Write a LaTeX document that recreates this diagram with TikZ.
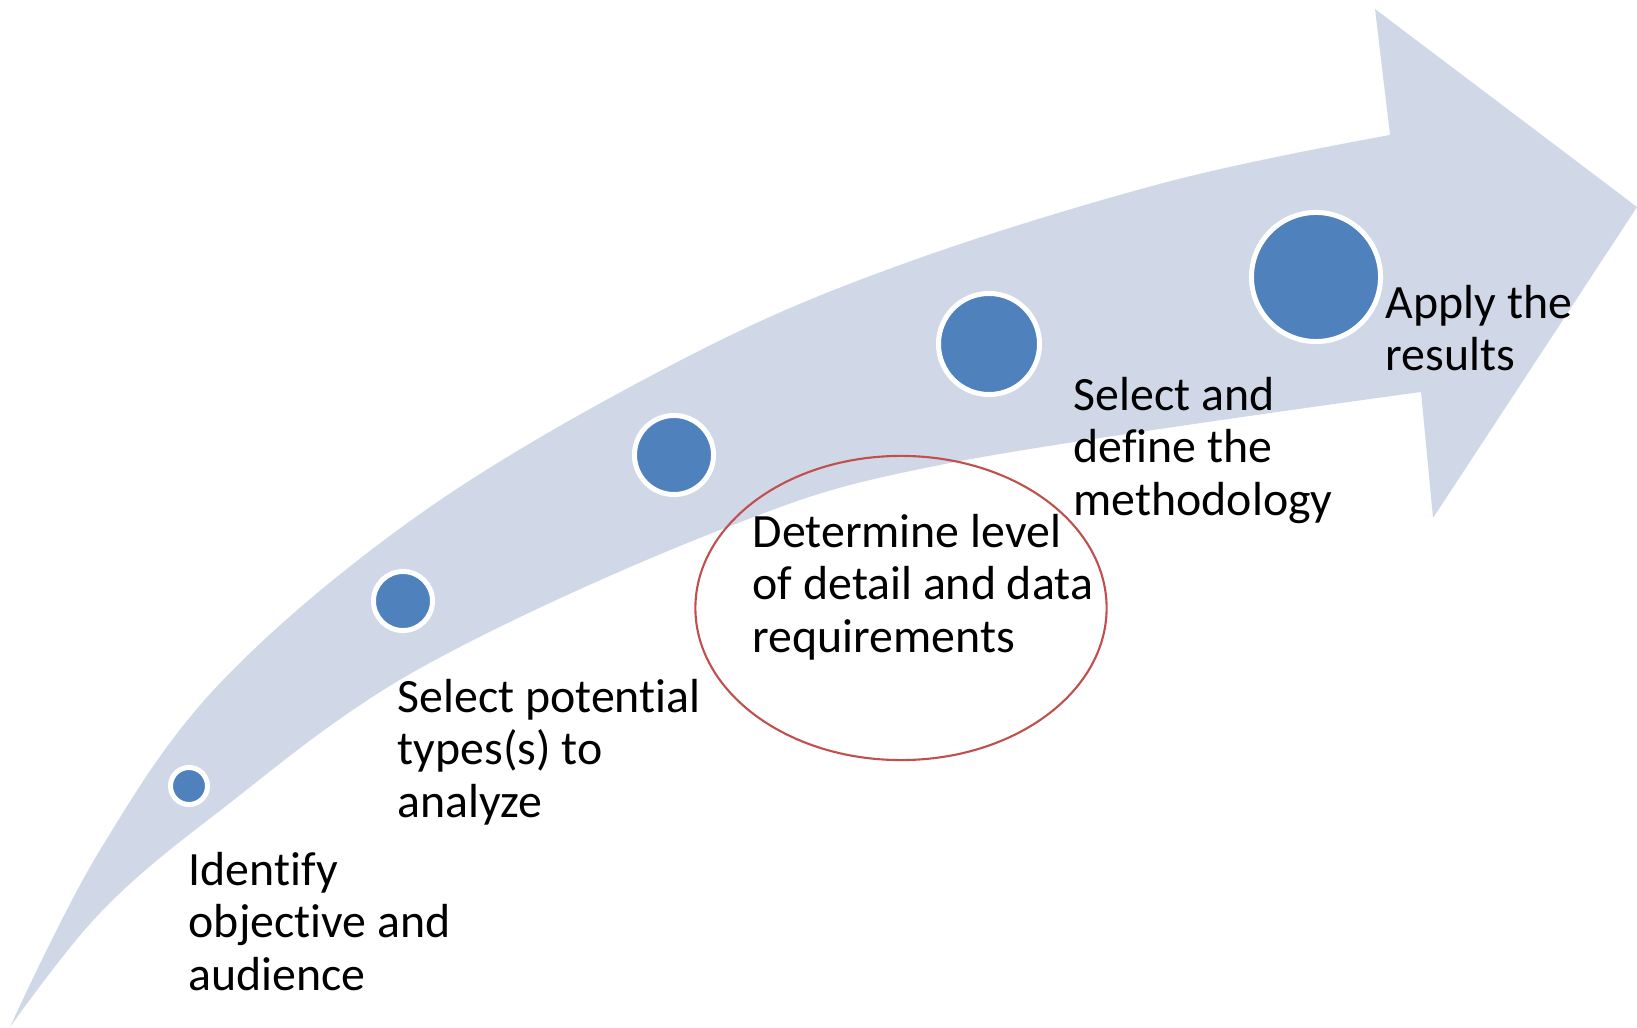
\documentclass[tikz,border=0pt]{standalone}
\usepackage{fontspec}
\setmainfont{Carlito}[Ligatures=NoCommon]
\usetikzlibrary{shapes.geometric}
\definecolor{bandblue}{HTML}{D0D8E8}
\definecolor{dotblue}{HTML}{4F81BD}
\definecolor{ringred}{HTML}{C0504D}
\begin{document}
\begin{tikzpicture}[x=0.01cm,y=-0.01cm,
  band/.style={fill=bandblue},
  stepdot/.style={circle, fill=dotblue, draw=white, line width=1.42pt, inner sep=0pt},
  % labels are placed by the baseline of their last line
  steplabel/.style={anchor=base west, align=left, inner sep=0pt,
    font=\fontsize{13.6}{14.8}\selectfont},
  focus/.style={ellipse, draw=ringred, line width=0.6pt, inner sep=0pt}
]
\useasboundingbox (0,0) rectangle (1637,1028);

% curved arrow band
\fill[band]
  plot[smooth, tension=0.6] coordinates {(10,1027) (100,850) (223,680) (430,507) (687,357) (900,265) (1167,182) (1390,135)}
  -- (1375,9) -- (1637,207) -- (1433,518) -- (1421,392)
  -- plot[smooth, tension=0.6] coordinates {(1421,392) (950,463) (720,530) (417,670) (217,813) (100,913) (10,1027)}
  -- cycle;

% step markers
\node[stepdot, minimum size=0.37cm] (s1) at (189,786) {};
\node[stepdot, minimum size=0.59cm] (s2) at (403,601) {};
\node[stepdot, minimum size=0.79cm] (s3) at (674,455) {};
\node[stepdot, minimum size=1.01cm] (s4) at (989,344) {};
\node[stepdot, minimum size=1.29cm] (s5) at (1316,277) {};

% highlighted step
\node[focus, minimum width=4.11cm, minimum height=3.04cm] (hl) at (901,608) {};

% step labels
\node[steplabel] (t1) at (188,990) {Identify\\objective and\\audience};
\node[steplabel] (t2) at (397,817) {Select potential\\types(s) to\\analyze};
\node[steplabel] (t3) at (752,652) {Determine level\\of detail and data\\requirements};
\node[steplabel] (t4) at (1073,515) {Select and\\define the\\methodology};
\node[steplabel] (t5) at (1385,371) {Apply the\\results};
\end{tikzpicture}
\end{document}
